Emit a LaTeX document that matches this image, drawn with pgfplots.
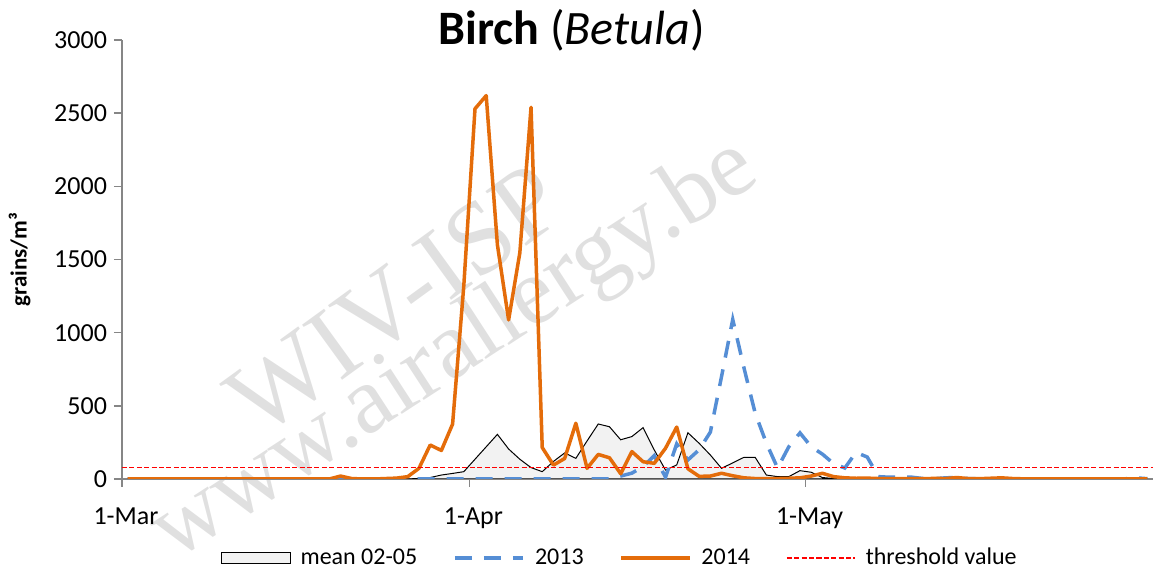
\documentclass[border=0pt]{standalone}
\usepackage{fontspec}
\setmainfont{Carlito}
\newfontfamily\wmfont{Liberation Serif}
\usepackage{pgfplots}
\pgfplotsset{compat=1.18}
\usepackage{pgfplotstable}
\definecolor{orange14}{HTML}{E46C0A}
\definecolor{blue13}{HTML}{558ED5}
\definecolor{axgray}{HTML}{868686}
\definecolor{meanfill}{HTML}{F2F2F2}
\definecolor{thred}{RGB}{255,0,0}

\pgfplotstableread[row sep=\\]{
d v\\
0 0\\ 1 0\\ 2 0\\ 3 0\\ 4 0\\ 5 0\\ 6 0\\ 7 0\\ 8 0\\ 9 0\\
10 0\\ 11 0\\ 12 0\\ 13 0\\ 14 0\\ 15 0\\ 16 0\\ 17 0\\ 18 0\\ 19 0\\
20 0\\ 21 0\\ 22 0\\ 23 0\\ 24 0\\ 25 0\\ 26 4\\ 27 10\\ 28 27\\ 29 38\\
30 50\\ 31 135\\ 32 220\\ 33 305\\ 34 205\\ 35 135\\ 36 78\\ 37 50\\ 38 120\\ 39 178\\
40 141\\ 41 260\\ 42 376\\ 43 357\\ 44 268\\ 45 290\\ 46 351\\ 47 198\\ 48 61\\ 49 96\\
50 316\\ 51 244\\ 52 164\\ 53 73\\ 54 110\\ 55 148\\ 56 148\\ 57 27\\ 58 16\\ 59 16\\
60 57\\ 61 46\\ 62 10\\ 63 3\\ 64 2\\ 65 0\\ 66 0\\ 67 0\\ 68 0\\ 69 0\\
70 0\\ 75 0\\ 80 0\\ 85 0\\ 91 0\\
}\meandata

\pgfplotstableread[row sep=\\]{
d v\\
0 0\\ 5 0\\ 10 0\\ 15 0\\ 20 0\\ 25 0\\ 30 0\\ 35 0\\ 40 0\\ 43 0\\
44 20\\ 45 40\\ 46 85\\ 47 160\\ 48 12\\ 49 240\\
50 130\\ 51 200\\ 52 320\\ 53 700\\ 54 1090\\ 55 760\\ 56 450\\ 57 245\\ 58 75\\ 59 220\\
60 315\\ 61 220\\ 62 170\\ 63 105\\ 64 75\\ 65 182\\ 66 150\\ 67 16\\ 68 12\\ 69 12\\
70 12\\ 71 3\\ 72 2\\ 73 8\\ 74 10\\ 75 3\\ 76 1\\ 80 1\\ 85 1\\ 89 1\\ 90 8\\ 91 2\\
}\bluedata

\pgfplotstableread[row sep=\\]{
d v\\
0 0\\ 1 0\\ 2 0\\ 3 0\\ 4 0\\ 5 0\\ 6 0\\ 7 0\\ 8 0\\ 9 0\\
10 0\\ 11 0\\ 12 0\\ 13 0\\ 14 0\\ 15 0\\ 16 0\\ 17 0\\ 18 0\\ 19 20\\
20 3\\ 21 0\\ 22 0\\ 23 3\\ 24 6\\ 25 16\\ 26 73\\ 27 232\\ 28 195\\ 29 375\\
30 1320\\ 31 2530\\ 32 2620\\ 33 1600\\ 34 1087\\ 35 1545\\ 36 2540\\ 37 215\\ 38 95\\ 39 140\\
40 381\\ 41 73\\ 42 168\\ 43 145\\ 44 36\\ 45 187\\ 46 118\\ 47 107\\ 48 210\\ 49 355\\
50 70\\ 51 18\\ 52 20\\ 53 39\\ 54 22\\ 55 8\\ 56 3\\ 57 2\\ 58 3\\ 59 5\\
60 8\\ 61 20\\ 62 39\\ 63 16\\ 64 8\\ 65 5\\ 66 6\\ 67 3\\ 68 2\\ 69 3\\
70 2\\ 71 2\\ 72 4\\ 73 3\\ 74 10\\ 75 3\\ 76 2\\ 77 5\\ 78 8\\ 79 3\\
80 1\\ 81 1\\ 82 1\\ 83 1\\ 84 1\\ 85 1\\ 86 1\\ 87 1\\ 88 1\\ 89 1\\ 90 1\\ 91 1\\
}\orangedata

\begin{document}
\begin{tikzpicture}
\path[use as bounding box] (0,0) rectangle (576.5pt,286pt);
% watermark
\node[rotate=36, text=black!12, font=\wmfont\fontsize{52}{52}\selectfont] at (197.5pt,136pt) {WIV-ISP};
\node[rotate=33, text=black!12, font=\wmfont\fontsize{48}{48}\selectfont] at (228pt,110pt) {www.airallergy.be};
\begin{axis}[
  at={(61pt,46.5pt)}, anchor=south west,
  scale only axis, width=515.5pt, height=219.5pt,
  xmin=-0.5, xmax=91.5, ymin=0, ymax=3000,
  axis x line=bottom, axis y line=left,
  axis line style={axgray, line width=0.75pt, -},
  tick style={axgray, line width=0.75pt},
  tick align=outside, major tick length=4pt,
  xtick={-0.5,30.5,60.5}, xticklabels={1-Mar,1-Apr,1-May},
  ytick={0,500,...,3000},
  tick label style={font=\fontsize{13}{15}\selectfont, black},
  xticklabel style={yshift=-7pt, xshift=2pt},
  /pgf/number format/assume math mode=true,
  /pgf/number format/1000 sep={},
  ylabel={grains/m³},
  ylabel style={font=\bfseries\fontsize{11.5}{13}\selectfont, yshift=5pt},
  title={\textbf{Birch} (\textit{Betula})},
  title style={at={(0.436,1)}, anchor=base, yshift=-8.5pt, font=\fontsize{24}{28}\selectfont},
  legend columns=4,
  legend style={at={(0.484,-0.18)}, anchor=center, draw=none, fill=none,
    font=\fontsize{12}{14}\selectfont,
    /tikz/every odd column/.append style={column sep=3pt},
    /tikz/every even column/.append style={column sep=16pt}},
  legend image post style={xscale=2},
]
\addplot[fill=meanfill, draw=black, line width=0.5pt, area legend] table[x=d,y=v] {\meandata} \closedcycle;
\addlegendentry{mean 02-05}
\addplot[blue13, line width=1.75pt, dash pattern=on 8.5pt off 6pt] table[x=d,y=v] {\bluedata};
\addlegendentry{2013}
\addplot[orange14, line width=1.75pt, line join=round] table[x=d,y=v] {\orangedata};
\addlegendentry{2014}
\addplot[draw=thred, line width=0.7pt, dash pattern=on 2.5pt off 1.2pt, forget plot] coordinates {(-0.5,80) (91.5,80)};
\addlegendimage{draw=thred, line width=0.7pt, dash pattern=on 2.5pt off 1.2pt}
\addlegendentry{threshold value}
\end{axis}
\end{tikzpicture}
\end{document}
